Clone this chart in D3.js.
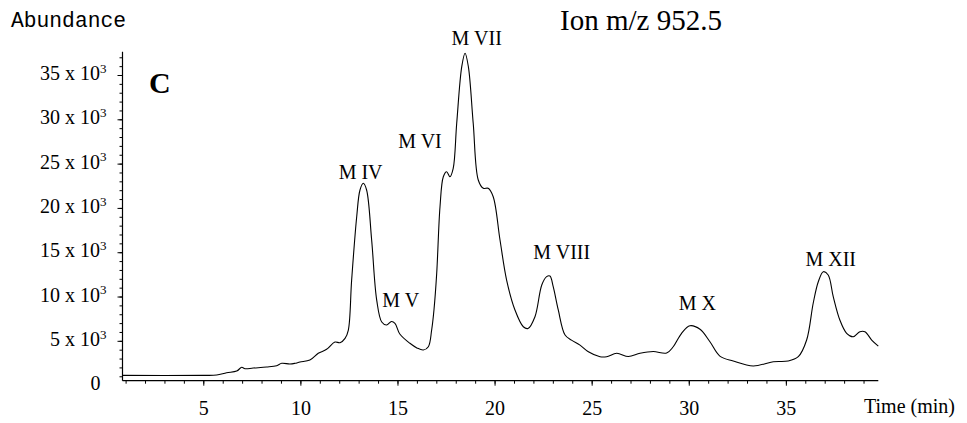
<!DOCTYPE html>
<html>
<head>
<meta charset="utf-8">
<script src="https://cdn.jsdelivr.net/npm/d3@7/dist/d3.min.js"></script>
<style>
  html, body { margin: 0; padding: 0; background: #fff; }
  svg { display: block; }
  text { font-family: "Liberation Serif", "Times New Roman", serif; fill: #000; }
</style>
</head>
<body>
<svg id="chart" width="967" height="423"></svg>
<script>
// ---- data ----
const times = [0.84, 5.0, 5.69, 6.2, 6.72, 6.98, 7.15, 7.57, 8.26, 8.78, 9.04, 9.46, 9.72, 9.98,
  10.49, 10.92, 11.35, 11.78, 12.04, 12.3, 12.47, 12.64, 12.9, 13.07, 13.24, 13.41, 13.67, 13.93,
  14.19, 14.44, 14.69, 14.87, 15.12, 15.64, 16.0, 16.33, 16.59, 16.76, 16.88, 17.02, 17.19, 17.36,
  17.53, 17.7, 17.87, 18.05, 18.31, 18.48, 18.65, 18.9, 19.16, 19.42, 19.67, 19.93, 20.28, 20.62,
  21.05, 21.48, 21.72, 22.08, 22.43, 22.68, 22.85, 23.02, 23.28, 23.63, 23.96, 24.4, 24.83, 25.43,
  25.77, 26.29, 26.89, 27.49, 28.17, 28.86, 29.2, 29.63, 30.06, 30.58, 31.09, 31.6, 32.29, 33.32,
  34.35, 35.12, 35.64, 36.07, 36.41, 36.67, 36.93, 37.18, 37.44, 37.78, 38.13, 38.47, 38.81, 39.07,
  39.42, 39.76];
const abundance = [1100, 1100, 1140, 1400, 1590, 2010, 1850, 1930, 2040, 2190, 2460, 2380, 2460, 2610,
  2830, 3590, 4040, 4860, 4790, 5280, 6220, 11860, 19010, 22020, 22780, 22020, 16380, 9600,
  7120, 6780, 7180, 6980, 5770, 4720, 4200, 3960, 4330, 6220, 8500, 12620, 20140, 23520,
  24090, 23520, 24470, 29550, 35940, 37450, 35940, 29550, 23150, 22210, 22210, 21260, 16380, 11860,
  8480, 6590, 6390, 7720, 11300, 12240, 12310, 11110, 8480, 5650, 5080, 4520, 3770, 3210,
  3210, 3590, 3230, 3590, 3790, 3620, 4330, 5850, 6700, 6300, 4900, 3280, 2720, 2160,
  2640, 2720, 3210, 5090, 9270, 11670, 12800, 12430, 9980, 7350, 5850, 5460, 6030, 6030,
  5090, 4410];

const xTicks = [5, 10, 15, 20, 25, 30, 35];
const yTicks = [0, 5000, 10000, 15000, 20000, 25000, 30000, 35000];
const yTickLabels = ["0", "5 x 10", "10 x 10", "15 x 10", "20 x 10", "25 x 10", "30 x 10", "35 x 10"];

const peakNames = ["M IV", "M V", "M VI", "M VII", "M VIII", "M X", "M XII"];
const peakLabelTimes = [13.1, 15.17, 16.16, 19.08, 23.46, 30.44, 37.31];
const peakLabelValues = [23260, 8815, 26760, 38330, 14290, 8480, 13500];

const title = "Ion m/z 952.5";
const yTitle = "Abundance";
const xTitle = "Time (min)";
const panelLetter = "C";

// ---- layout ----
const svg = d3.select("#chart");
const mLeft = 122.5, mRight = 878.3, mTop = 51.7, mBottom = 380.7;

const x = d3.scaleLinear().domain([0.84, 39.76]).range([mLeft, mRight]);
const y = d3.scaleLinear().domain([500, 37630]).range([mBottom, mTop]);

// x axis
const xAxis = svg.append("g").attr("transform", `translate(0,${mBottom})`);
xAxis.call(d3.axisBottom(x).tickValues(d3.range(1, 40)).tickSize(3).tickFormat(""))
  .call(g => g.select(".domain").remove());
const xMajor = svg.append("g").attr("transform", `translate(0,${mBottom})`);
xMajor.call(d3.axisBottom(x).tickValues(xTicks).tickSize(5).tickPadding(15).tickFormat(d3.format("d")))
  .call(g => g.select(".domain").remove())
  .call(g => g.selectAll("text").attr("font-size", 20).attr("font-family", "Liberation Serif"));
svg.append("line").attr("x1", mLeft).attr("x2", mRight).attr("y1", mBottom).attr("y2", mBottom)
  .attr("stroke", "#000").attr("stroke-width", 1.2);

// y axis
const yAxis = svg.append("g").attr("transform", `translate(${mLeft},0)`);
yAxis.call(d3.axisLeft(y).tickValues(d3.range(1000, 37001, 1000)).tickSize(3).tickFormat(""))
  .call(g => g.select(".domain").remove());
const yMajor = svg.append("g").attr("transform", `translate(${mLeft},0)`);
yMajor.call(d3.axisLeft(y).tickValues(yTicks.filter(d => d > 0)).tickSize(5).tickFormat(""))
  .call(g => g.select(".domain").remove());
svg.append("line").attr("x1", mLeft).attr("x2", mLeft).attr("y1", mTop).attr("y2", mBottom)
  .attr("stroke", "#000").attr("stroke-width", 1.2);

// y tick labels with superscripts
yTicks.forEach((v, i) => {
  const t = svg.append("text")
    .attr("x", v === 0 ? mLeft - 22 : mLeft - 16)
    .attr("y", y(v))
    .attr("dy", "0.25em")
    .attr("text-anchor", "end")
    .attr("font-size", 20);
  t.append("tspan").text(yTickLabels[i]);
  if (v !== 0) {
    t.append("tspan").attr("font-size", 13).attr("dy", "-0.55em").text("3");
  }
});

// line
const line = d3.line()
  .x((d, i) => x(times[i]))
  .y((d, i) => y(abundance[i]))
  .curve(d3.curveCatmullRom.alpha(0.5));
svg.append("path")
  .datum(abundance)
  .attr("d", line)
  .attr("fill", "none")
  .attr("stroke", "#000")
  .attr("stroke-width", 1.1);

// peak labels
peakNames.forEach((n, i) => {
  svg.append("text")
    .attr("x", x(peakLabelTimes[i]))
    .attr("y", y(peakLabelValues[i]))
    .attr("text-anchor", "middle")
    .attr("font-size", 20)
    .text(n);
});

// titles
svg.append("text").attr("x", 560).attr("y", 30).attr("font-size", 29).text(title);
svg.append("text").attr("x", 11).attr("y", 27.3)
  .style("font-family", "'Liberation Mono', 'Courier New', monospace")
  .attr("font-size", 21.3).text(yTitle);
svg.append("text").attr("x", 864).attr("y", 412.7).attr("font-size", 20).text(xTitle);
svg.append("text").attr("x", 149).attr("y", 93).attr("font-size", 30).attr("font-weight", "bold").text(panelLetter);
</script>
</body>
</html>
